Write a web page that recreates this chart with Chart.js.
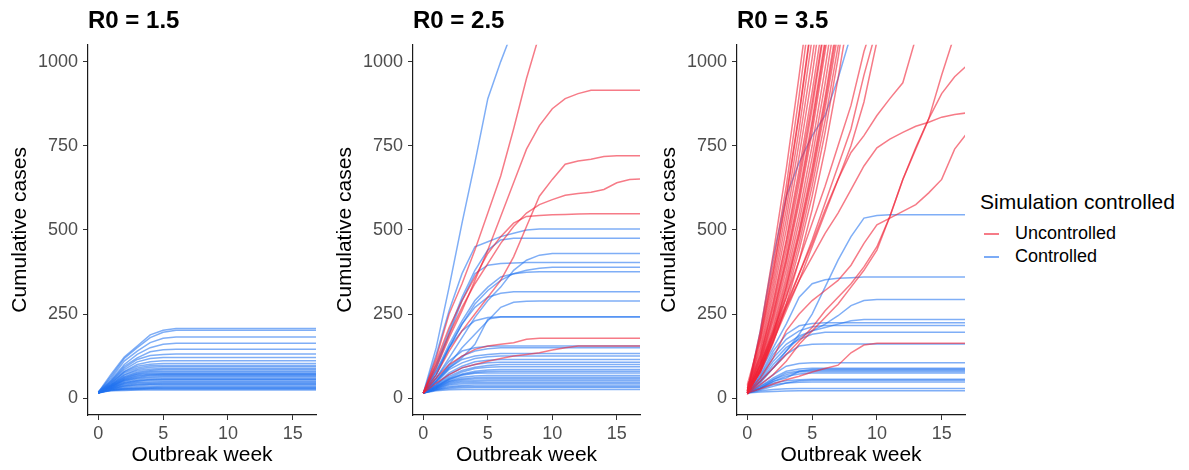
<!DOCTYPE html>
<html>
<head>
<meta charset="utf-8">
<script src="https://cdn.jsdelivr.net/npm/chart.js@4"></script>
<style>
  body { margin: 0; background: #fff; font-family: 'Liberation Sans', Arial, sans-serif; }
  #wrap { position: relative; width: 1189px; height: 470px; overflow: hidden; }
  canvas { position: absolute; top: 0; }
  .legend-title { position: absolute; left: 980px; top: 190px; font-size: 21px; color: #000; white-space: nowrap; }
  .legend-item { position: absolute; left: 984px; font-size: 18px; color: #000; white-space: nowrap; }
  .legend-item span.key { display: inline-block; width: 15px; height: 2px; vertical-align: middle; margin-right: 16px; }
</style>
</head>
<body>
<div id="wrap">
  <canvas id="p1" width="325" height="470" style="left:0px"></canvas>
  <canvas id="p2" width="324" height="470" style="left:325px"></canvas>
  <canvas id="p3" width="326" height="470" style="left:649px"></canvas>
  <div class="legend-title">Simulation controlled</div>
  <div class="legend-item" style="top:223px"><span class="key" style="background:rgba(240,35,55,0.6)"></span>Uncontrolled</div>
  <div class="legend-item" style="top:246px"><span class="key" style="background:rgba(35,115,240,0.6)"></span>Controlled</div>
</div>
<script>
// weeks of the outbreak (x values)
const weeks = [0, 1, 2, 3, 4, 5, 6, 7, 8, 9, 10, 11, 12, 13, 14, 15, 16, 17];
const xTicks = [0, 5, 10, 15];
const yTicks = [0, 250, 500, 750, 1000];
const panelTitles = ['R0 = 1.5', 'R0 = 2.5', 'R0 = 3.5'];
const legendLabels = ['Uncontrolled', 'Controlled'];

// R0 = 1.5 : every simulation controlled
const r15Uncontrolled = [];
const r15Controlled = [
  [18,72,122,155,188,202,207,207,207,207,207,207,207,207,207,207,207,207],
  [17,66,118,150,180,196,202,202,202,202,202,202,202,202,202,202,202,202],
  [18,60,110,140,165,178,182,182,182,182,182,182,182,182,182,182,182,182],
  [16,55,100,130,150,160,163,163,163,163,163,163,163,163,163,163,163,163],
  [18,52,95,120,138,144,145,145,145,145,145,145,145,145,145,145,145,145],
  [17,50,90,115,127,130,131,131,131,131,131,131,131,131,131,131,131,131],
  [16,48,85,108,118,121,121,121,121,121,121,121,121,121,121,121,121,121],
  [18,45,80,100,108,111,111,111,111,111,111,111,111,111,111,111,111,111],
  [15,45,78,95,101,103,103,103,103,103,103,103,103,103,103,103,103,103],
  [17,42,75,90,96,97,97,97,97,97,97,97,97,97,97,97,97,97],
  [16,40,70,86,92,93,93,93,93,93,93,93,93,93,93,93,93,93],
  [18,40,68,82,87,88,88,88,88,88,88,88,88,88,88,88,88,88],
  [15,39,64,78,83,85,85,85,85,85,85,85,85,85,85,85,85,85],
  [15,38,62,75,80,81,81,81,81,81,81,81,81,81,81,81,81,81],
  [17,38,60,72,77,78,78,78,78,78,78,78,78,78,78,78,78,78],
  [16,36,58,70,73,74,74,74,74,74,74,74,74,74,74,74,74,74],
  [18,36,56,67,71,72,72,72,72,72,72,72,72,72,72,72,72,72],
  [15,35,55,65,69,70,70,70,70,70,70,70,70,70,70,70,70,70],
  [16,34,53,62,67,68,68,68,68,68,68,68,68,68,68,68,68,68],
  [18,34,52,60,64,65,65,65,65,65,65,65,65,65,65,65,65,65],
  [17,33,50,58,61,62,62,62,62,62,62,62,62,62,62,62,62,62],
  [16,32,47,54,57,58,58,58,58,58,58,58,58,58,58,58,58,58],
  [17,31,46,52,55,56,56,56,56,56,56,56,56,56,56,56,56,56],
  [15,30,44,50,53,54,54,54,54,54,54,54,54,54,54,54,54,54],
  [18,30,42,47,49,50,50,50,50,50,50,50,50,50,50,50,50,50],
  [17,29,40,45,46,47,47,47,47,47,47,47,47,47,47,47,47,47],
  [16,28,37,42,43,44,44,44,44,44,44,44,44,44,44,44,44,44],
  [17,27,36,40,41,42,42,42,42,42,42,42,42,42,42,42,42,42],
  [15,27,34,38,39,40,40,40,40,40,40,40,40,40,40,40,40,40],
  [18,26,31,34,35,36,36,36,36,36,36,36,36,36,36,36,36,36],
  [17,25,29,31,32,33,33,33,33,33,33,33,33,33,33,33,33,33],
  [16,24,27,29,30,31,31,31,31,31,31,31,31,31,31,31,31,31],
  [16,24,27,28,29,29,29,29,29,29,29,29,29,29,29,29,29,29],
  [15,23,25,26,27,27,27,27,27,27,27,27,27,27,27,27,27,27],
  [18,22,23,24,24,24,24,24,24,24,24,24,24,24,24,24,24,24]
];

// R0 = 2.5
const r25Uncontrolled = [
  [15,120,250,340,440,550,660,800,950,1080,1200],
  [15,90,180,260,350,440,540,640,740,810,860,890,905,915,915,915,915,915],
  [15,70,140,200,250,300,350,420,510,600,650,695,705,710,718,720,720,720],
  [15,100,190,270,340,400,460,510,550,575,590,603,608,612,620,640,650,652],
  [15,110,210,290,360,430,480,520,540,543,545,546,547,548,548,548,548,548],
  [15,60,100,125,145,155,160,165,175,178,178,178,178,178,178,178,178,178],
  [15,45,70,90,100,110,118,125,130,135,143,150,155,155,155,155,155,155]
];
const r25Controlled = [
  [15,150,330,520,700,890,1000,1100],
  [15,130,260,370,450,465,480,490,500,503,503,503,503,503,503,503,503,503],
  [15,100,200,300,380,440,470,475,475,475,475,475,475,475,475,475,475,475],
  [15,60,120,180,240,290,330,380,410,425,430,430,430,430,430,430,430,430],
  [15,90,190,290,370,395,400,402,403,403,403,403,403,403,403,403,403,403],
  [15,70,150,220,280,320,350,370,380,386,389,389,389,389,389,389,389,389],
  [15,80,160,230,290,330,360,370,374,376,376,376,376,376,376,376,376,376],
  [15,70,150,220,270,300,312,316,316,316,316,316,316,316,316,316,316,316],
  [15,50,100,150,190,230,270,285,288,289,289,289,289,289,289,289,289,289],
  [15,80,150,200,230,240,242,242,242,242,242,242,242,242,242,242,242,242],
  [15,50,90,120,160,235,241,241,241,241,241,241,241,241,241,241,241,241],
  [15,60,110,140,150,154,155,155,155,155,155,155,155,155,155,155,155,155],
  [15,55,95,125,140,147,150,150,150,150,150,150,150,150,150,150,150,150],
  [15,50,90,115,125,130,133,133,133,133,133,133,133,133,133,133,133,133],
  [15,45,85,105,118,123,125,125,125,125,125,125,125,125,125,125,125,125],
  [15,40,75,95,108,113,115,115,115,115,115,115,115,115,115,115,115,115],
  [15,40,70,90,100,105,107,107,107,107,107,107,107,107,107,107,107,107],
  [15,38,65,82,92,97,100,100,100,100,100,100,100,100,100,100,100,100],
  [15,35,60,78,88,92,93,93,93,93,93,93,93,93,93,93,93,93],
  [15,35,58,72,80,84,85,85,85,85,85,85,85,85,85,85,85,85],
  [15,34,56,70,76,79,80,80,80,80,80,80,80,80,80,80,80,80],
  [15,33,55,68,74,75,75,75,75,75,75,75,75,75,75,75,75,75],
  [15,32,52,62,66,67,67,67,67,67,67,67,67,67,67,67,67,67],
  [15,31,50,58,61,62,62,62,62,62,62,62,62,62,62,62,62,62],
  [15,30,48,55,57,58,58,58,58,58,58,58,58,58,58,58,58,58],
  [15,29,45,51,52,53,53,53,53,53,53,53,53,53,53,53,53,53],
  [15,28,42,47,48,48,48,48,48,48,48,48,48,48,48,48,48,48],
  [15,27,39,43,44,44,44,44,44,44,44,44,44,44,44,44,44,44],
  [15,26,35,38,39,39,39,39,39,39,39,39,39,39,39,39,39,39],
  [15,25,32,35,35,35,35,35,35,35,35,35,35,35,35,35,35,35],
  [15,24,29,31,32,32,32,32,32,32,32,32,32,32,32,32,32,32],
  [15,22,25,26,26,26,26,26,26,26,26,26,26,26,26,26,26,26]
];

// R0 = 3.5
const r35Uncontrolled = [
  [20,200,430,680,960,1250],
  [20,190,400,630,900,1200],
  [40,180,380,600,850,1130],
  [25,175,370,590,840,1120],
  [15,165,350,560,800,1070],
  [30,150,330,530,760,1010,1280],
  [20,140,310,500,720,960,1230],
  [15,130,290,470,680,910,1160],
  [20,120,280,460,660,880,1120],
  [35,125,270,440,640,860,1110],
  [20,115,255,420,610,825,1065],
  [25,110,250,410,595,810,1050],
  [10,105,240,400,580,790,1030,1280],
  [25,100,230,380,550,750,980,1230],
  [20,95,215,360,525,715,935,1180],
  [15,90,205,345,500,685,895,1130],
  [15,80,190,330,490,670,880,1110],
  [30,85,195,330,480,655,860,1085],
  [20,85,185,315,460,630,825,1045,1290],
  [15,80,175,300,440,600,790,1010,1260],
  [20,75,165,280,410,560,740,950,1180],
  [15,100,200,300,410,520,630,750,870,1030,1150],
  [15,90,180,270,370,470,580,690,800,960,1100],
  [15,80,170,260,350,450,550,650,750,880,1060],
  [15,100,190,280,370,460,560,650,730,780,840,890,937,1070],
  [15,80,170,270,350,420,490,550,620,690,744,770,790,808,820,835,843,848],
  [15,50,90,130,170,210,260,300,340,390,450,540,650,740,830,905,955,990],
  [15,40,70,110,160,200,240,280,330,380,440,540,650,745,830,960,1080],
  [15,60,120,200,250,290,320,350,395,460,515,535,555,575,610,650,740,790],
  [15,28,42,55,65,78,88,98,135,158,163,163,163,163,163,163,163,163]
];
const r35Controlled = [
  [15,200,420,600,700,780,840,950,1080],
  [15,50,90,140,190,250,330,410,480,535,543,545,545,545,545,545,545,545],
  [15,80,150,220,300,340,352,356,358,360,360,360,360,360,360,360,360,360],
  [15,50,100,140,180,200,220,245,275,290,293,293,293,293,293,293,293,293],
  [15,60,120,160,185,200,210,220,230,234,234,234,234,234,234,234,234,234],
  [15,70,140,190,215,222,224,224,224,224,224,224,224,224,224,224,224,224],
  [15,65,130,175,200,212,216,216,216,216,216,216,216,216,216,216,216,216],
  [15,55,110,150,175,190,196,196,196,196,196,196,196,196,196,196,196,196],
  [15,45,90,130,155,160,161,161,161,161,161,161,161,161,161,161,161,161],
  [15,40,70,95,103,105,105,105,105,105,105,105,105,105,105,105,105,105],
  [15,35,60,80,87,89,89,89,89,89,89,89,89,89,89,89,89,89],
  [15,30,50,60,80,85,86,86,86,86,86,86,86,86,86,86,86,86],
  [15,35,55,75,81,83,83,83,83,83,83,83,83,83,83,83,83,83],
  [15,30,55,70,78,79,79,79,79,79,79,79,79,79,79,79,79,79],
  [15,30,50,65,72,75,75,75,75,75,75,75,75,75,75,75,75,75],
  [15,30,45,52,55,56,56,56,56,56,56,56,56,56,56,56,56,56],
  [15,25,35,45,52,53,53,53,53,53,53,53,53,53,53,53,53,53],
  [15,28,40,45,47,48,48,48,48,48,48,48,48,48,48,48,48,48],
  [15,22,26,28,29,29,29,29,29,29,29,29,29,29,29,29,29,29],
  [15,18,20,21,22,22,22,22,22,22,22,22,22,22,22,22,22,22]
];

const RED = 'rgba(240,35,55,0.6)';
const BLUE = 'rgba(35,115,240,0.58)';

Chart.defaults.font.family = "'Liberation Sans', Arial, sans-serif";

function toPoints(series) {
  return series.map((v, i) => ({ x: weeks[i], y: v }));
}

function buildPanel(id, title, uncontrolled, controlled, padRight) {
  const datasets = [];
  uncontrolled.forEach(s => datasets.push({
    label: legendLabels[0], data: toPoints(s), borderColor: RED,
    borderWidth: 1.5, pointRadius: 0, tension: 0, fill: false
  }));
  controlled.forEach(s => datasets.push({
    label: legendLabels[1], data: toPoints(s), borderColor: BLUE,
    borderWidth: 1.5, pointRadius: 0, tension: 0, fill: false
  }));

  return new Chart(document.getElementById(id), {
    type: 'line',
    data: { datasets },
    options: {
      responsive: false,
      animation: false,
      events: [],
      layout: { padding: { left: 0, right: padRight, top: 0, bottom: 0 } },
      plugins: {
        legend: { display: false },
        tooltip: { enabled: false },
        title: {
          display: true,
          text: title,
          align: 'start',
          fullSize: false,
          color: '#000',
          font: { size: 24, weight: 'bold' },
          padding: { top: 7, bottom: 9 }
        }
      },
      scales: {
        x: {
          type: 'linear',
          min: -0.8,
          max: 16.8,
          afterBuildTicks: s => { s.ticks = xTicks.map(v => ({ value: v })); },
          afterFit: s => { s.height = 55; },
          ticks: { color: '#4d4d4d', font: { size: 18 }, padding: 3, maxRotation: 0, callback: v => String(v) },
          grid: { drawOnChartArea: false, drawTicks: true, tickLength: 5, color: '#333' },
          border: { display: true, color: '#1a1a1a', width: 1.2 },
          title: { display: true, text: 'Outbreak week', color: '#000', font: { size: 21 }, padding: { top: 0, bottom: 2 } }
        },
        y: {
          min: -50,
          max: 1050,
          afterBuildTicks: s => { s.ticks = yTicks.map(v => ({ value: v })); },
          afterFit: s => { s.width = 88; },
          ticks: { color: '#4d4d4d', font: { size: 18 }, padding: 5, callback: v => String(v) },
          grid: { drawOnChartArea: false, drawTicks: true, tickLength: 5, color: '#333' },
          border: { display: true, color: '#1a1a1a', width: 1.2 },
          title: { display: true, text: 'Cumulative cases', color: '#000', font: { size: 21 }, padding: { top: 8, bottom: 0 } }
        }
      }
    }
  });
}

buildPanel('p1', panelTitles[0], r15Uncontrolled, r15Controlled, 9);
buildPanel('p2', panelTitles[1], r25Uncontrolled, r25Controlled, 9);
buildPanel('p3', panelTitles[2], r35Uncontrolled, r35Controlled, 10);
</script>
</body>
</html>
